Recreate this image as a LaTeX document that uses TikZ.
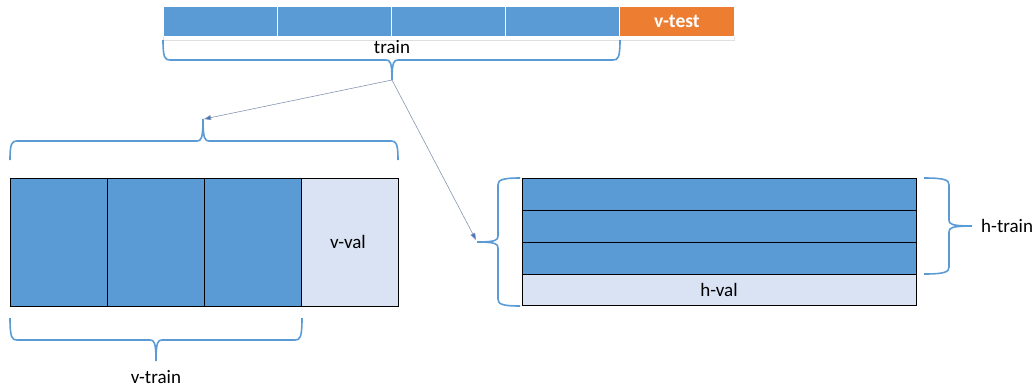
\documentclass[tikz,border=0pt]{standalone}
\usepackage{fontspec}
\setmainfont{Carlito}
\usetikzlibrary{arrows.meta}
\definecolor{cblue}{HTML}{5B9BD5}
\definecolor{corange}{HTML}{ED7D31}
\definecolor{clight}{HTML}{DAE3F3}
\definecolor{cline}{HTML}{8497B0}
\definecolor{chead}{HTML}{4472C4}
\begin{document}
\begin{tikzpicture}[x=1pt,y=-1pt,
  lbl/.style={font=\fontsize{19}{22}\selectfont, text=black, inner sep=0pt},
  topcell/.style={draw=white, line width=0.8pt, fill=cblue, anchor=north west, minimum height=30pt, minimum width=114.2pt, inner sep=0pt, outer sep=0pt},
  vcell/.style={draw=black, line width=1pt, fill=cblue, anchor=north west, minimum height=128pt, minimum width=97pt, inner sep=0pt, outer sep=0pt},
  hcell/.style={draw=black, line width=1pt, fill=cblue, anchor=north west, minimum height=32pt, minimum width=394pt, inner sep=0pt, outer sep=0pt},
  brace/.style={draw=cblue, line width=1.6pt},
  conn/.style={draw=cline, line width=0.6pt, -{Triangle[length=7pt,width=5pt,fill=chead]}}]
\useasboundingbox (0,0) rectangle (1036,389);
% top bar
\draw[draw=gray!25, line width=0.6pt] (163,6) rectangle (734,40);
\node[topcell] (t1) at (163,6.5) {};
\node[topcell] (t2) at (277.2,6.5) {};
\node[topcell] (t3) at (391.4,6.5) {};
\node[topcell] (t4) at (505.6,6.5) {};
\node[topcell, fill=corange] (t5) at (619.8,6.5) {};
\node[font=\fontsize{19.5}{22}\selectfont\bfseries, text=white, inner sep=0pt] (vtest) at (t5.center) {v-test};
\node[lbl] (train) at (392,47) {train};
\draw[brace] (163,40) .. controls (163,58) and (165,60) .. (170,60) -- (386,60) .. controls (390,60) and (392,62) .. (392,80) .. controls (392,62) and (394,60) .. (398,60) -- (613,60) .. controls (618,60) and (620,58) .. (620,40);
\coordinate (trtip) at (392,80);
% v box
\draw[brace] (10,160) .. controls (10,143) and (12,141) .. (17,141) -- (197,141) .. controls (201,141) and (203,139) .. (203,119) .. controls (203,139) and (205,141) .. (209,141) -- (391,141) .. controls (396,141) and (398,143) .. (398,160);
\coordinate (vtip) at (204,119);
\node[vcell] (v1) at (10,178) {};
\node[vcell] (v2) at (107,178) {};
\node[vcell] (v3) at (204,178) {};
\node[vcell, fill=clight] (v4) at (301,178) {};
\node[lbl] (vval) at (348,242) {v-val};
\draw[brace] (10,318) .. controls (10,338) and (12,340) .. (17,340) -- (150,340) .. controls (154,340) and (156,342) .. (156,361) .. controls (156,342) and (158,340) .. (162,340) -- (295,340) .. controls (300,340) and (302,338) .. (302,318);
\node[lbl] (vtrain) at (156,377) {v-train};
% h box
\node[hcell] (h1) at (522,178) {};
\node[hcell] (h2) at (522,210) {};
\node[hcell] (h3) at (522,242) {};
\node[hcell, fill=clight, minimum height=31pt] (h4) at (522,274) {};
\node[lbl] (hval) at (h4.center) {h-val};
\draw[brace] (520,178) .. controls (502,178) and (498,180) .. (498,185) -- (498,236) .. controls (498,240) and (496,242) .. (477,242) .. controls (496,242) and (498,244) .. (498,248) -- (498,299) .. controls (498,304) and (502,306) .. (520,306);
\coordinate (htip) at (476,240);
\draw[brace] (924,178) .. controls (945,178) and (949,180) .. (949,185) -- (949,220) .. controls (949,224) and (951,226) .. (972,226) .. controls (951,226) and (949,228) .. (949,232) -- (949,267) .. controls (949,272) and (945,274) .. (924,274);
\node[lbl, anchor=west] (htrain) at (981,226) {h-train};
% connectors
\draw[conn] (trtip) -- (vtip);
\draw[conn] (trtip) -- (htip);
\end{tikzpicture}
\end{document}
